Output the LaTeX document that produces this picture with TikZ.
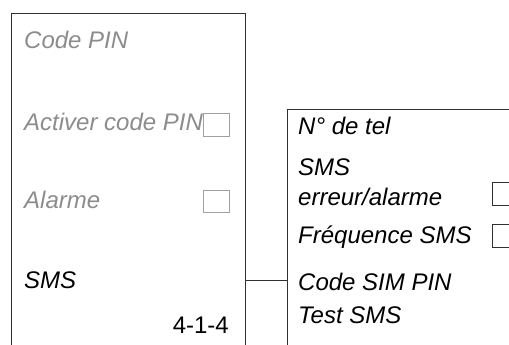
\documentclass[tikz,border=0pt]{standalone}
\usepackage{fontspec}
\setmainfont{Liberation Sans}
\definecolor{greytxt}{HTML}{8C8C8C}
\definecolor{greybox}{HTML}{A0A0A0}
\definecolor{edge}{HTML}{303030}
\tikzset{
  lbl/.style={anchor=base west, inner sep=0pt, font=\fontsize{24}{26}\selectfont\itshape},
  grey/.style={lbl, text=greytxt},
  dark/.style={lbl, text=black},
  frame/.style={draw=edge, line width=0.9pt},
  cbgrey/.style={draw=greybox, line width=0.9pt},
  cbdark/.style={draw=edge, line width=0.9pt},
}
\begin{document}
\begin{tikzpicture}[x=1pt,y=-1pt]
\useasboundingbox (0,0) rectangle (509,345);
% left panel
\draw[frame] (11,345) -- (11,13) -- (245,13) -- (245,345);
\node[grey] (codepin) at (24,49) {Code PIN};
\node[grey] (activer) at (24,130) {Activer code PIN};
\draw[cbgrey] (203,113) rectangle (229,136);
\node[grey] (alarme) at (24,208) {Alarme};
\draw[cbgrey] (203,190) rectangle (229,212);
\node[dark] (sms) at (24,288) {SMS};
\node[anchor=base east, inner sep=0pt, font=\fontsize{24}{26}\selectfont] (num) at (229,333) {4-1-4};
% right panel
\draw[frame] (287,345) -- (287,109) -- (509,109);
\node[dark] (tel) at (298,135) {N° de tel};
\node[dark] (sms2) at (298,175) {SMS};
\node[dark] (err) at (298,205) {erreur/alarme};
\draw[cbdark] (492,182) -- (492,205) -- (510,205) (492,182) -- (510,182);
\node[dark] (freq) at (298,243) {Fréquence SMS};
\draw[cbdark] (492,224) -- (492,247) -- (510,247) (492,224) -- (510,224);
\node[dark] (sim) at (298,290) {Code SIM PIN};
\node[dark] (test) at (298,323) {Test SMS};
% connector
\coordinate (lr) at (245,280);
\coordinate (rl) at (287,280);
\draw[frame] (lr) -- (rl);
\end{tikzpicture}
\end{document}
